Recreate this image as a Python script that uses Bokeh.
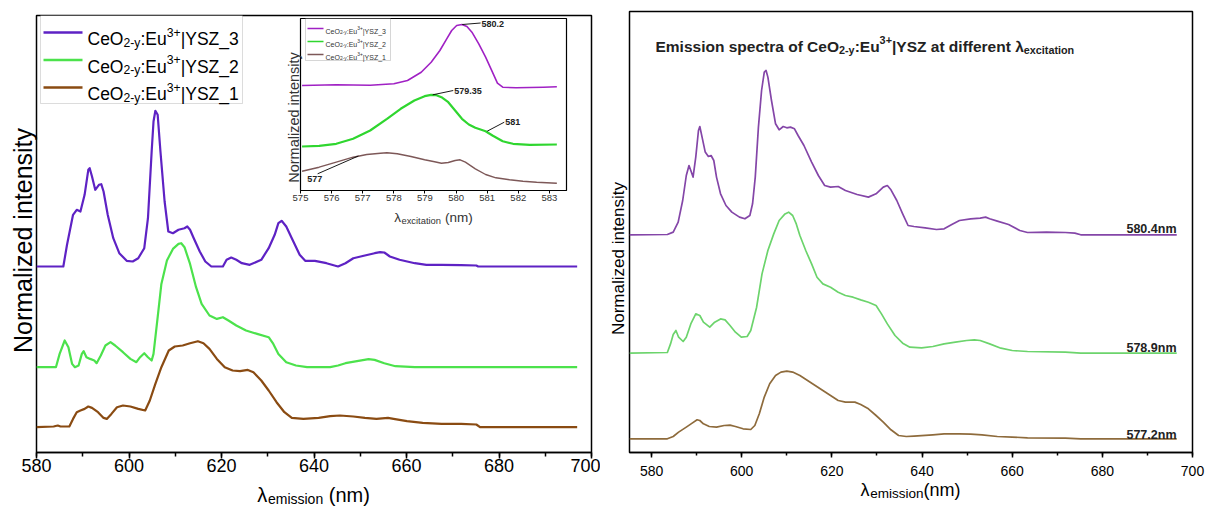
import math
from bokeh.plotting import figure
from bokeh.models import Label, BoxAnnotation, SingleIntervalTicker, FixedTicker, Range1d
from bokeh.embed import file_html
from bokeh.resources import INLINE

# ---------------- DATA ----------------
# Left panel (emission spectra, three samples), wavelength in nm, intensity in a.u.
left_x_3 = [580.0, 585.8, 586.6, 587.9, 588.7, 589.5, 590.4, 591.2, 591.5, 592.0, 592.7, 593.5, 594.0, 594.5, 595.4,
            596.6, 597.9, 599.5, 600.8, 602.0, 603.3, 604.1, 604.9, 605.3, 605.7, 606.2, 606.8, 607.7, 608.5, 609.5,
            610.7, 612.0, 612.6, 613.2, 614.0, 615.3, 616.5, 617.8, 620.3, 621.1, 622.1, 623.2, 624.4, 626.1, 628.6,
            630.2, 631.5, 632.3, 633.0, 634.0, 635.2, 636.9, 638.1, 640.2, 642.7, 645.2, 646.8, 648.5, 651.0, 653.1,
            654.3, 655.2, 656.4, 658.5, 661.8, 664.3, 667.6, 671.8, 675.1, 675.5, 696.9]
left_y_3 = [0, 0, 21.7, 51.7, 56.7, 55, 71.7, 96.7, 98.3, 90, 76.7, 81.7, 82.3, 75, 51.7,
            28.3, 13.3, 5.7, 5, 8.3, 18.3, 48.3, 115, 145, 155.7, 151.7, 115, 65, 35, 33.3,
            36.7, 38.3, 40, 36.7, 28.3, 15, 5, 0, 0, 6.7, 9, 6.7, 3.3, 1.7, 6.7,
            18.3, 31.7, 43.3, 45.7, 40, 28.3, 11.7, 5.7, 5.7, 3.3, 0, 3.3, 8.3, 11, 13.3,
            14.3, 14, 10, 6.7, 3.3, 1.7, 1.7, 1.3, 1, 0, 0]
left_x_2 = [580.0, 584.2, 585.0, 586.1, 586.9, 587.7, 588.3, 589.1, 589.8, 590.2,
            590.8, 591.6, 592.5, 593.0, 593.9, 594.9, 596.0, 597.0, 598.7, 600.3,
            601.6, 602.4, 603.3, 604.1, 604.9, 605.3, 606.2, 607.0, 608.2, 609.5,
            610.7, 611.3, 612.0, 613.2, 614.5, 615.7, 617.4, 619.0, 620.3, 621.5,
            623.2, 625.3, 627.7, 630.2, 631.2, 632.3, 634.0, 636.1, 638.5, 643.5,
            645.2, 646.8, 649.3, 651.8, 653.1, 655.2, 657.6, 661.8, 696.9]
left_y_2 = [0, 0, 13.3, 26.7, 20, 3.3, 0, 1.7, 13.3, 16,
            10, 8.3, 6.7, 4, 11.7, 21.7, 25, 21.7, 15, 8.3,
            5, 10, 14, 10, 6.7, 13.3, 50, 83.3, 106.7, 118.3,
            123.3, 124, 120, 103.3, 80, 63.3, 51.7, 48.3, 50, 46.7,
            41.7, 36.7, 33.3, 30, 23.3, 13.3, 5, 1.7, 0, 0,
            1.7, 4, 6, 8, 7.3, 4, 1, 0, 0]
left_x_1 = [580.0, 583.7, 584.6, 585.2, 587.1, 587.9, 588.7, 589.5, 590.4, 591.2,
            592.0, 593.3, 594.5, 595.2, 596.2, 597.4, 598.7, 600.3, 602.0, 603.5,
            604.5, 605.7, 607.0, 608.6, 609.9, 611.6, 613.2, 614.9, 616.1, 617.4,
            619.0, 620.7, 622.4, 624.0, 625.7, 626.9, 628.6, 630.2, 631.9, 633.6,
            635.2, 637.7, 641.0, 643.5, 645.6, 648.5, 651.0, 653.5, 656.0, 657.2,
            660.1, 663.5, 667.6, 671.8, 675.1, 675.9, 696.9]
left_y_1 = [0, 0.7, 1.7, 0.7, 0.7, 8.3, 15, 16.7, 18.3, 20.7,
            19.3, 15, 9.3, 8.3, 13.3, 20, 21.7, 20.7, 18.3, 16.7,
            26.7, 43.3, 60, 76.7, 80.7, 81.7, 84, 86, 84, 78.3,
            68.3, 60, 56.7, 56, 57.3, 55, 46.7, 36.7, 25, 15,
            9.3, 8.3, 9.3, 11, 11.7, 10.7, 9.3, 8.3, 9.3, 8.3,
            6, 4.3, 3.3, 3.3, 2.7, 0, 0]
left_offsets = [186, 85.3, 25.3]          # YSZ_3, YSZ_2, YSZ_1
left_names = ["YSZ_3", "YSZ_2", "YSZ_1"]

# Inset: excitation spectra
inset_x_3 = [575.05, 576.15, 577.24, 578.0, 578.44, 578.88, 579.2, 579.48, 579.7, 579.86, 580.02, 580.19,
             580.35, 580.51, 580.73, 580.95, 581.17, 581.33, 581.5, 581.93, 582.37, 582.81, 583.24]
inset_y_3 = [105, 105.7, 105.3, 106.7, 110, 118.3, 128.3, 140, 151.7, 160, 165, 166,
             164, 158.3, 146.7, 133.3, 118.3, 107.3, 103.3, 102.7, 103, 103.3, 103.7]
inset_x_2 = [575.05, 575.6, 576.15, 576.69, 577.24, 577.78, 578.22, 578.66, 578.99, 579.2, 579.37, 579.53,
             579.75, 579.97, 580.19, 580.41, 580.62, 580.95, 581.17, 581.5, 581.83, 582.37, 583.24]
inset_y_2 = [44, 44.7, 46.7, 51.7, 60, 71.7, 81.7, 90, 94.3, 95.7, 95.3, 93.3,
             88.3, 80, 71.7, 66, 62.7, 59.3, 55, 49.3, 46.7, 45.7, 46]
inset_x_1 = [575.05, 575.6, 576.15, 576.69, 577.13, 577.57, 577.78, 578.11, 578.55, 578.99, 579.31, 579.53,
             579.75, 579.97, 580.13, 580.3, 580.62, 580.95, 581.28, 581.72, 582.15, 582.59, 583.24]
inset_y_1 = [19.3, 23.3, 28.3, 33.3, 36, 37.3, 37.7, 36.7, 34, 30.7, 28.7, 27.3,
             28, 30, 30.7, 28.3, 21.7, 16, 12.7, 10.7, 9.3, 8.3, 7.3]
inset_ticks = [575, 576, 577, 578, 579, 580, 581, 582, 583]
ann_text = ["580.2", "579.35", "581", "577"]
ann_px = [580.2, 579.25, 581.0, 576.86]
ann_py = [166, 95.7, 59.3, 34.5]
ann_lx = [580.79, 579.91, 581.55, 575.55]
ann_ly = [167.5, 100, 68.3, 16.7]
ann_tx = [580.82, 579.94, 581.58, 575.22]
ann_ty = [166.7, 100, 68.3, 11.7]

# Right panel: emission at different excitation wavelengths
right_x_a = [575.1, 583.5, 584.8, 585.9, 586.9, 587.7, 588.3, 588.7, 589.2, 589.8,
             590.4, 590.7, 591.2, 591.9, 592.6, 593.2, 593.8, 594.4, 595.3, 596.5,
             597.8, 599.5, 600.7, 601.8, 602.4, 603.0, 603.7, 604.4, 605.0, 605.4,
             605.8, 606.6, 607.5, 608.3, 609.2, 610.0, 610.8, 611.7, 612.5, 613.8,
             615.5, 617.0, 618.4, 619.7, 621.4, 623.0, 625.6, 628.1, 629.8, 631.4,
             632.3, 633.1, 634.4, 635.7, 636.9, 638.2, 640.7, 643.2, 644.9, 646.6,
             648.3, 650.8, 652.9, 654.1, 655.0, 656.7, 659.2, 661.7, 663.4, 667.6,
             671.8, 673.9, 675.2, 696.5]
right_y_a = [0, 0.3, 2.7, 12.7, 34.3, 59.3, 69.3, 64.3, 57.7, 77.7,
             104.3, 108.3, 97.7, 82.7, 78.3, 79.3, 74.3, 57.7, 41, 29.3,
             22.7, 17.7, 16, 19.3, 31, 57.7, 107.7, 144.3, 162.7, 164.3,
             157.7, 134.3, 111, 105, 108.3, 107, 107.7, 106, 99.3, 89.3,
             72.7, 59.3, 49.3, 47.7, 48.3, 44.3, 40.3, 37.7, 41, 47.7,
             49.3, 45, 34.3, 21, 9.3, 8.3, 7, 5.3, 6, 10.3,
             14.3, 16, 16.7, 17.7, 16, 13.7, 10.3, 4.3, 2.3, 2.7,
             2.3, 1.7, 0, 0]
right_x_b = [575.1, 583.5, 584.2, 584.8, 585.4, 586.0, 587.0, 587.7, 588.7, 589.8,
             590.7, 591.5, 592.9, 594.0, 595.3, 596.3, 597.4, 598.6, 599.9, 601.2,
             602.0, 603.3, 604.5, 605.8, 607.1, 608.3, 609.6, 610.4, 611.3, 612.1,
             612.9, 614.2, 615.5, 616.7, 618.0, 619.7, 621.4, 623.0, 624.7, 626.4,
             628.1, 629.8, 631.0, 632.3, 634.0, 635.7, 637.3, 639.9, 642.4, 644.9,
             647.4, 649.9, 651.6, 652.9, 655.0, 657.5, 660.0, 663.4, 671.8, 675.2,
             696.5]
right_y_b = [0, 0.7, 9.3, 18.7, 22.7, 16, 11.7, 16, 29.3, 39.3,
             37.7, 31, 26, 31, 34.3, 33.3, 27.7, 21, 16, 16.7,
             22.7, 46, 79.3, 102.7, 119.3, 132.7, 139.3, 141, 137.7, 129.3,
             117.7, 102.7, 89.3, 76, 69.3, 66, 61, 57.7, 56, 53.3,
             51, 47.7, 39.3, 29.3, 17.7, 10, 6, 5.3, 6.7, 9.3,
             11, 12.7, 13.3, 12.7, 9.3, 5, 2.7, 1.7, 1, 0,
             0]
right_x_c = [575.1, 583.5, 584.8, 586.0, 587.7, 589.0, 590.1, 590.7, 591.5, 592.8,
             594.4, 596.1, 597.4, 598.6, 600.3, 602.0, 602.9, 603.9, 605.0, 606.2,
             607.5, 608.7, 610.0, 611.3, 612.9, 614.6, 616.3, 618.0, 619.7, 621.4,
             623.0, 625.1, 626.4, 628.1, 629.8, 631.4, 633.1, 634.8, 636.5, 638.2,
             642.4, 644.9, 648.3, 650.8, 653.3, 656.7, 660.0, 663.4, 671.8, 675.2,
             696.5]
right_y_c = [0, 0, 2.3, 6.7, 11.7, 15.7, 19, 18.3, 15, 12.3,
             11.7, 13.3, 13.7, 12.3, 10, 9.3, 13.3, 25, 41.7, 55,
             63.3, 66.7, 67.7, 66.7, 63.3, 58.3, 53.3, 48.3, 43.3, 38.3,
             36.7, 36.7, 34.3, 30, 23.3, 16.7, 9, 3.3, 2.3, 2.7,
             4, 5, 5, 4.7, 4, 2.3, 1.7, 1, 0.7, 0,
             0]
right_offsets = [217.7, 99.3, 13.7]
right_labels = ["580.4nm", "578.9nm", "577.2nm"]

# ---------------- STYLE ----------------
FONT = "Liberation Sans"
LEFT_COLORS = ["#5E22C4", "#4CE24C", "#8A4B12"]
RIGHT_COLORS = ["#8446A8", "#6CD46C", "#8E6B3C"]
INSET_COLORS = ["#A021C4", "#2FD62F", "#7D5858"]
PAGE_W, PAGE_H = 1205, 507

REG = dict(zip(" ()+-.:_|", [278, 333, 333, 584, 333, 278, 278, 556, 260]))
BLD = dict(zip(" ()+-.:_|", [278, 333, 333, 584, 333, 278, 333, 556, 280]))
for d in "0123456789":
    REG[d] = 556
    BLD[d] = 556
REG.update(zip("ABCDEFGHIJKLMNOPQRSTUVWXYZ", [667, 667, 722, 722, 667, 611, 778, 722, 278, 500, 667, 556, 833,
                                              722, 778, 667, 778, 722, 667, 611, 722, 667, 944, 667, 667, 611]))
REG.update(zip("abcdefghijklmnopqrstuvwxyz", [556, 556, 500, 556, 556, 278, 556, 556, 222, 222, 500, 222, 833,
                                              556, 556, 556, 556, 333, 500, 278, 556, 500, 722, 500, 500, 500]))
BLD.update(zip("ABCDEFGHIJKLMNOPQRSTUVWXYZ", [722, 722, 722, 722, 667, 611, 778, 722, 278, 556, 722, 611, 833,
                                              722, 778, 667, 778, 722, 667, 611, 722, 667, 944, 667, 667, 611]))
BLD.update(zip("abcdefghijklmnopqrstuvwxyz", [556, 611, 556, 611, 556, 333, 611, 611, 278, 278, 556, 278, 889,
                                              611, 611, 611, 611, 389, 556, 333, 611, 556, 778, 556, 556, 500]))
REG["λ"] = 540
BLD["λ"] = 556


def tw(s, size, bold):
    t = BLD if bold else REG
    return sum(t.get(c, 556) for c in s) * size / 1000.0


def place(left_px, top_px):
    return {"position": "absolute", "left": f"{left_px}px", "top": f"{top_px}px"}


def make_fig(xr, yr, bl, br, bt, bb, fw, fh, **kw):
    p = figure(frame_width=fw, frame_height=fh, x_range=Range1d(*xr), y_range=Range1d(*yr), title=None,
               output_backend="svg", toolbar_location=None, y_axis_location=None,
               min_border_left=bl, min_border_right=br, min_border_top=bt, min_border_bottom=bb, **kw)
    p.grid.visible = False
    p.outline_line_color = "black"
    p.outline_line_alpha = 1.0
    p.background_fill_color = "white"
    return p


def style_xaxis(p, size, tick_out, minor_out, standoff, width=1.5):
    ax = p.xaxis[0]
    ax.major_label_text_font = FONT
    ax.major_label_text_font_size = size
    ax.major_label_text_color = "black"
    ax.major_tick_in = 0
    ax.major_tick_out = tick_out
    ax.minor_tick_in = 0
    ax.minor_tick_out = minor_out
    ax.major_tick_line_width = width
    ax.minor_tick_line_width = width
    ax.axis_line_width = width
    ax.major_label_standoff = standoff


# transparent full-page overlay that carries the page texts (page px, y measured from top)
ov = figure(width=PAGE_W, height=PAGE_H, x_range=Range1d(0, PAGE_W), y_range=Range1d(0, PAGE_H), title=None,
            output_backend="svg", toolbar_location=None, x_axis_location=None, y_axis_location=None,
            min_border=0, min_border_left=0, min_border_right=0, min_border_top=0, min_border_bottom=0,
            styles=place(0, 0))
ov.grid.visible = False
ov.outline_line_alpha = 0
ov.background_fill_alpha = 0
ov.border_fill_alpha = 0


def put(X, Y, text, size, color="black", bold=False, align="left", baseline="alphabetic", angle=0.0):
    ov.add_layout(Label(x=X, y=PAGE_H - Y, x_units="screen", y_units="screen", text=text, angle=angle,
                        text_font=FONT, text_font_size=f"{size:.1f}px", text_font_style="bold" if bold else "normal",
                        text_color=color, text_baseline=baseline, text_align=align))


def rich(X, Y, parts, size, color="black", bold=False, align="left", ratio=0.7):
    """X, Y in page px; Y is the baseline."""
    sizes = [size * (ratio if k != "n" else 1.0) for _, k in parts]
    widths = [tw(t, s, bold) for (t, _), s in zip(parts, sizes)]
    total = sum(widths)
    x0 = X - total / 2 if align == "center" else (X - total if align == "right" else X)
    for (t, k), s, w in zip(parts, sizes, widths):
        dy = 0.2 * size if k == "sub" else (-0.40 * size if k == "sup" else 0.0)
        stripped = t.lstrip(" ")
        lead = tw(t[:len(t) - len(stripped)], s, bold)
        put(x0 + lead, Y + dy, stripped.rstrip(" "), s, color=color, bold=bold)
        x0 += w


CE = [("CeO", "n"), ("2-y", "sub"), (":Eu", "n"), ("3+", "sup")]

# ---------------- LEFT PANEL ----------------
LFL, LFB = 36, 452
left = make_fig((580, 700), (0, 437), 36, 9, 15, 55, 555, 437)
left.outline_line_width = 1.5
left.xaxis[0].ticker = SingleIntervalTicker(interval=20, num_minor_ticks=2)
style_xaxis(left, "18px", 6, 4, 0)

for xs, ys, off, col in zip([left_x_3, left_x_2, left_x_1], [left_y_3, left_y_2, left_y_1],
                            left_offsets, LEFT_COLORS):
    left.line(xs, [off + v for v in ys], line_color=col, line_width=2.2, line_join="round")

left.add_layout(BoxAnnotation(left=40 - LFL, right=242 - LFL, top=LFB - 15, bottom=LFB - 103,
                              left_units="screen", right_units="screen", top_units="screen", bottom_units="screen",
                              fill_color="white", fill_alpha=1.0, line_color="#8c8c8c", line_width=1))
for i, (name, col) in enumerate(zip(left_names, LEFT_COLORS)):
    cy = 32 + i * 27.5
    left.add_layout(BoxAnnotation(left=43 - LFL, right=82 - LFL, top=LFB - (cy - 1.2), bottom=LFB - (cy + 1.2),
                                  left_units="screen", right_units="screen", top_units="screen",
                                  bottom_units="screen", fill_color=col, fill_alpha=1.0, line_alpha=0))
    rich(87, cy + 6.5, CE + [("|" + name, "n")], 17.5)

put(22, 240, "Normalized intensity", 25, align="center", baseline="middle", angle=math.pi / 2)
rich(313, 494, [("λ", "n"), ("emission", "sub"), (" (nm)", "n")], 20, align="center")

# ---------------- RIGHT PANEL ----------------
right = make_fig((575.1, 700), (0, 441), 29, 13, 11, 55, 563, 441, styles=place(600, 0))
right.outline_line_width = 1.5
right.xaxis[0].ticker = SingleIntervalTicker(interval=20, num_minor_ticks=2)
style_xaxis(right, "14px", 5, 3, 8)

for xs, ys, off, col in zip([right_x_a, right_x_b, right_x_c], [right_y_a, right_y_b, right_y_c],
                            right_offsets, RIGHT_COLORS):
    right.line(xs, [off + v for v in ys], line_color=col, line_width=1.7, line_join="round")

for lab, by in zip(right_labels, [228, 347, 434]):
    put(1176, by, lab, 12.5, color="#222222", bold=True, align="right")

rich(655, 46, [("Emission spectra of ", "n")] + CE +
     [("|YSZ at different ", "n"), ("λ", "n"), ("excitation", "sub")], 15.5, color="#222222", bold=True)
put(618, 258, "Normalized intensity", 17, align="center", baseline="middle", angle=math.pi / 2)
rich(910, 489, [("λ", "n"), ("emission", "sub"), ("(nm)", "n")], 18, align="center", ratio=0.75)

# ---------------- INSET ----------------
IFL, IFB = 300, 190
inset = make_fig((575, 583.55), (0, 172), 16, 23, 1, 32, 266, 172, styles=place(284, 17))
inset.border_fill_alpha = 0
inset.outline_line_width = 1.2
inset.xaxis[0].ticker = FixedTicker(ticks=inset_ticks)
style_xaxis(inset, "9.5px", 3, 0, 1, width=1)
inset.xaxis[0].major_label_text_color = "#333333"

for xs, ys, col, lw in zip([inset_x_3, inset_x_2, inset_x_1], [inset_y_3, inset_y_2, inset_y_1],
                           INSET_COLORS, [1.6, 2.2, 1.4]):
    inset.line(xs, ys, line_color=col, line_width=lw, line_join="round")

inset.segment(x0=ann_px, y0=ann_py, x1=ann_lx, y1=ann_ly, line_color="black", line_width=0.9)
for t, x, y in zip(ann_text, ann_tx, ann_ty):
    inset.add_layout(Label(x=x, y=y, text=t, text_font=FONT, text_font_size="9px", text_font_style="bold",
                           text_baseline="middle", text_align="left", text_color="#222222"))

inset.add_layout(BoxAnnotation(left=305 - IFL, right=390 - IFL, top=IFB - 18, bottom=IFB - 60,
                               left_units="screen", right_units="screen", top_units="screen",
                               bottom_units="screen", fill_color="white", fill_alpha=1.0,
                               line_color="#555555", line_width=0.8))
for i, (name, col) in enumerate(zip(left_names, INSET_COLORS)):
    cy = 28 + i * 13
    inset.add_layout(BoxAnnotation(left=307 - IFL, right=323 - IFL, top=IFB - (cy - 0.8), bottom=IFB - (cy + 0.8),
                                   left_units="screen", right_units="screen", top_units="screen",
                                   bottom_units="screen", fill_color=col, fill_alpha=1.0, line_alpha=0))
    rich(325, cy + 2.5, CE + [("|" + name, "n")], 7, color="#333333")

put(293, 117, "Normalized intensity", 14.5, color="#333333", align="center", baseline="middle", angle=math.pi / 2)
rich(433, 217, [("λ", "n"), ("excitation", "sub"), (" (nm)", "n")], 13.5, color="#333333", align="center")

p = [left, right, inset, ov]
open("out.html", "w").write(file_html(p, INLINE))
